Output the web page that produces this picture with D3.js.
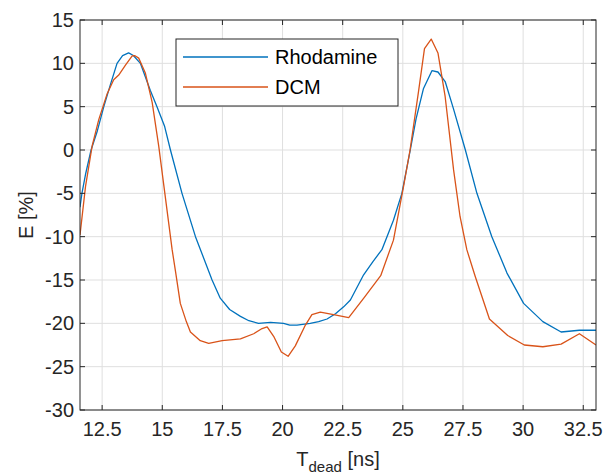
<!DOCTYPE html>
<html>
<head>
<meta charset="utf-8">
<script src="https://cdn.jsdelivr.net/npm/d3@7"></script>
<style>
  body { margin: 0; background: #fff; }
  svg text { font-family: "Liberation Sans", Arial, sans-serif; }
</style>
</head>
<body>
<script>
const width = 612;
const height = 474;

// data (T_dead in ns, E in %)
const rhodamineT = [11.58, 11.66, 11.81, 12.04, 12.3, 12.57, 12.85, 13.12, 13.35, 13.6, 13.8, 14.09, 14.5, 14.78, 15.1, 15.34, 15.82, 16.38, 17.07, 17.41, 17.8, 18.25, 18.6, 19.0, 19.5, 20.04, 20.3, 20.6, 21.15, 21.5, 21.85, 22.2, 22.54, 22.82, 23.37, 23.75, 24.13, 24.61, 24.96, 25.31, 25.55, 25.86, 26.21, 26.46, 26.76, 27.1, 27.6, 28.08, 28.7, 29.33, 30.02, 30.82, 31.58, 32.34, 33.03];
const rhodamineE = [-6.6, -5.0, -2.8, 0, 2.2, 5.0, 7.6, 10.0, 10.9, 11.2, 10.9, 10.0, 6.9, 5.0, 2.7, 0, -5, -10, -15, -17.1, -18.4, -19.2, -19.7, -20.0, -19.9, -20.0, -20.2, -20.2, -20.0, -19.8, -19.5, -18.9, -18.1, -17.3, -14.4, -12.9, -11.5, -8.1, -5, 0, 3.6, 7.1, 9.15, 9.0, 7.9, 4.8, 0, -5, -10, -14.2, -17.7, -19.8, -21.0, -20.8, -20.8];

const dcmT = [11.58, 11.81, 12.08, 12.36, 12.71, 12.98, 13.19, 13.47, 13.75, 13.85, 14.02, 14.3, 14.58, 14.85, 15.06, 15.27, 15.41, 15.55, 15.75, 16.0, 16.17, 16.58, 16.93, 17.49, 18.25, 18.8, 19.15, 19.36, 19.63, 19.95, 20.23, 20.53, 20.95, 21.22, 21.57, 22.12, 22.75, 23.4, 24.08, 24.61, 25.03, 25.3, 25.65, 25.9, 26.18, 26.46, 26.76, 27.11, 27.38, 27.66, 28.01, 28.6, 29.36, 30.05, 30.82, 31.58, 32.34, 33.03];
const dcmE = [-9.8, -4.2, 0.4, 3.5, 6.5, 8.1, 8.65, 9.8, 10.85, 10.9, 10.6, 8.85, 5.5, 0.5, -4, -8.5, -11.5, -14, -17.7, -19.8, -21, -22.0, -22.3, -22.0, -21.8, -21.2, -20.6, -20.4, -21.5, -23.3, -23.8, -22.6, -20.2, -19.0, -18.7, -19.0, -19.35, -17.0, -14.5, -10.4, -4.2, 0, 6.7, 11.7, 12.8, 11.2, 6.15, -2.3, -7.7, -11.5, -14.6, -19.5, -21.4, -22.5, -22.7, -22.4, -21.2, -22.5];

const xTicks = [12.5, 15, 17.5, 20, 22.5, 25, 27.5, 30, 32.5];
const xTickLabels = ["12.5", "15", "17.5", "20", "22.5", "25", "27.5", "30", "32.5"];
const yTicks = [-30, -25, -20, -15, -10, -5, 0, 5, 10, 15];
const yTickLabels = ["-30", "-25", "-20", "-15", "-10", "-5", "0", "5", "10", "15"];

const seriesNames = ["Rhodamine", "DCM"];
const seriesColors = ["#0072BD", "#D95319"];

const plotLeft = 80, plotRight = 596, plotTop = 20, plotBottom = 410;
const axisColor = "#262626";

const x = d3.scaleLinear().domain([11.58, 33.03]).range([plotLeft, plotRight]);
const y = d3.scaleLinear().domain([-30, 15]).range([plotBottom, plotTop]);

const svg = d3.select("body").append("svg")
	.attr("width", width)
	.attr("height", height);

// grid
svg.append("g")
	.selectAll("line")
	.data(xTicks)
	.join("line")
	.attr("x1", d => x(d)).attr("x2", d => x(d))
	.attr("y1", plotTop).attr("y2", plotBottom)
	.attr("stroke", "#dfdfdf").attr("stroke-width", 1);

svg.append("g")
	.selectAll("line")
	.data(yTicks)
	.join("line")
	.attr("x1", plotLeft).attr("x2", plotRight)
	.attr("y1", d => y(d)).attr("y2", d => y(d))
	.attr("stroke", "#dfdfdf").attr("stroke-width", 1);

// data lines
svg.append("clipPath").attr("id", "clip")
	.append("rect")
	.attr("x", plotLeft).attr("y", plotTop)
	.attr("width", plotRight - plotLeft).attr("height", plotBottom - plotTop);

const line = d3.line()
	.x(d => x(d[0]))
	.y(d => y(d[1]));

const series = [
	d3.zip(rhodamineT, rhodamineE),
	d3.zip(dcmT, dcmE)
];

svg.append("g").attr("clip-path", "url(#clip)")
	.selectAll("path")
	.data(series)
	.join("path")
	.attr("d", line)
	.attr("fill", "none")
	.attr("stroke", (d, i) => seriesColors[i])
	.attr("stroke-width", 1.3)
	.attr("stroke-linejoin", "round");

// axes (box with inward ticks)
const tickLen = 5;
const axes = svg.append("g")
	.attr("stroke", axisColor)
	.attr("stroke-width", 1)
	.attr("fill", "none");

axes.append("rect")
	.attr("x", plotLeft).attr("y", plotTop)
	.attr("width", plotRight - plotLeft).attr("height", plotBottom - plotTop);

xTicks.forEach(t => {
	axes.append("line").attr("x1", x(t)).attr("x2", x(t)).attr("y1", plotBottom).attr("y2", plotBottom - tickLen);
	axes.append("line").attr("x1", x(t)).attr("x2", x(t)).attr("y1", plotTop).attr("y2", plotTop + tickLen);
});
yTicks.forEach(t => {
	axes.append("line").attr("x1", plotLeft).attr("x2", plotLeft + tickLen).attr("y1", y(t)).attr("y2", y(t));
	axes.append("line").attr("x1", plotRight).attr("x2", plotRight - tickLen).attr("y1", y(t)).attr("y2", y(t));
});

// tick labels
svg.append("g")
	.selectAll("text")
	.data(xTicks)
	.join("text")
	.attr("x", d => x(d))
	.attr("y", plotBottom + 26)
	.attr("text-anchor", "middle")
	.attr("font-size", 20)
	.attr("fill", axisColor)
	.text((d, i) => xTickLabels[i]);

svg.append("g")
	.selectAll("text")
	.data(yTicks)
	.join("text")
	.attr("x", plotLeft - 6)
	.attr("y", d => y(d) + 7)
	.attr("text-anchor", "end")
	.attr("font-size", 20)
	.attr("fill", axisColor)
	.text((d, i) => yTickLabels[i]);

// axis labels
svg.append("text")
	.attr("transform", `translate(33, ${(plotTop + plotBottom) / 2}) rotate(-90)`)
	.attr("text-anchor", "middle")
	.attr("font-size", 20)
	.attr("fill", axisColor)
	.text("E [%]");

const xl = svg.append("text")
	.attr("x", (plotLeft + plotRight) / 2)
	.attr("y", 466)
	.attr("text-anchor", "middle")
	.attr("font-size", 20)
	.attr("fill", axisColor);
xl.append("tspan").text("T");
xl.append("tspan").attr("font-size", 15).attr("dy", 6).text("dead");
xl.append("tspan").attr("dy", -6).text(" [ns]");

// legend
const legend = svg.append("g");
legend.append("rect")
	.attr("x", 176).attr("y", 39)
	.attr("width", 222).attr("height", 67)
	.attr("fill", "#fff")
	.attr("stroke", axisColor)
	.attr("stroke-width", 1);

seriesNames.forEach((name, i) => {
	const ly = 57 + i * 30;
	legend.append("line")
		.attr("x1", 183).attr("x2", 268)
		.attr("y1", ly).attr("y2", ly)
		.attr("stroke", seriesColors[i])
		.attr("stroke-width", 1.3);
	legend.append("text")
		.attr("x", 275).attr("y", ly + 7)
		.attr("font-size", 20)
		.attr("fill", "#000")
		.text(name);
});
</script>
</body>
</html>
